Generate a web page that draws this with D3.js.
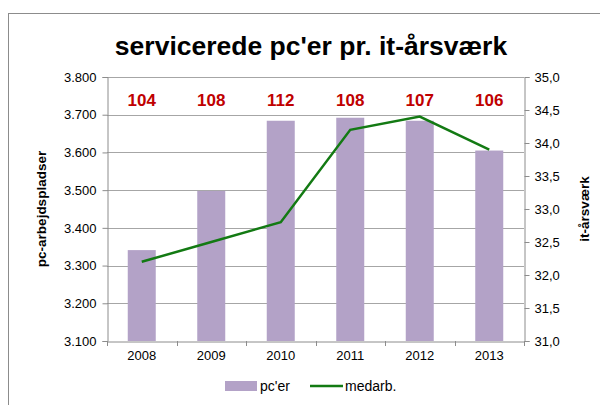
<!DOCTYPE html>
<html><head><meta charset="utf-8">
<script src="https://cdn.jsdelivr.net/npm/d3@7"></script>
<style>body{margin:0;background:#fff}svg{display:block;font-family:"Liberation Sans",Arial,sans-serif}</style>
</head><body><svg id="c" width="600" height="405"></svg>
<script>
const years = ["2008","2009","2010","2011","2012","2013"];
const pcer = [3341, 3498, 3684, 3692, 3684, 3605];
const medarb = [32.2, 32.5, 32.8, 34.2, 34.4, 33.9];
const ratios = ["104","108","112","108","107","106"];
const leftTicks = [3100,3200,3300,3400,3500,3600,3700,3800];
const rightTicks = [31,31.5,32,32.5,33,33.5,34,34.5,35];

const svg = d3.select("#c");
const L=107, R=524, T=77, B=341;
svg.append("rect").attr("x",8.5).attr("y",13.5).attr("width",620).attr("height",420)
  .attr("fill","#fff").attr("stroke","#8c8c8c").attr("stroke-width",1);

const xb = d3.scaleBand().domain(years).range([L,R]);
const yL = d3.scaleLinear().domain([3100,3800]).range([B,T]);
const yR = d3.scaleLinear().domain([31,35]).range([B,T]);

// gridlines
svg.append("g").selectAll("line").data(leftTicks.slice(1)).join("line")
  .attr("x1",L).attr("x2",R).attr("y1",d=>Math.round(yL(d))+0.5).attr("y2",d=>Math.round(yL(d))+0.5)
  .attr("stroke","#a6a6a6");

// bars
svg.append("g").selectAll("rect").data(years).join("rect")
  .attr("x",d=>xb(d)+xb.bandwidth()/2-14).attr("width",28)
  .attr("y",(d,i)=>yL(pcer[i])).attr("height",(d,i)=>B-yL(pcer[i]))
  .attr("fill","#b3a2c7");

// line
const line = d3.line().x((d,i)=>xb(years[i])+xb.bandwidth()/2).y(d=>yR(d));
svg.append("path").datum(medarb).attr("d",line).attr("fill","none")
  .attr("stroke","#137a13").attr("stroke-width",2.5);

// axes
const axL = d3.axisLeft(yL).tickValues(leftTicks).tickSize(5).tickPadding(6).tickFormat(d=>(d/1000).toFixed(3));
const gL = svg.append("g").attr("transform",`translate(${L+0.5},0)`).call(axL);
const axR = d3.axisRight(yR).tickValues(rightTicks).tickSize(5).tickPadding(5).tickFormat(d=>d.toFixed(1).replace(".",","));
const gR = svg.append("g").attr("transform",`translate(${R+0.5},0)`).call(axR);
const axB = d3.axisBottom(xb).tickSize(0).tickPadding(9);
const gB = svg.append("g").attr("transform",`translate(0,${B+0.5})`).call(axB);
[gL,gR,gB].forEach(g=>{
  g.selectAll("path,line").attr("stroke","#8c8c8c");
  g.selectAll("text").attr("fill","#000").style("font-size","13px").style("font-family","Liberation Sans, Arial, sans-serif");
});
// x ticks between categories
svg.append("g").selectAll("line").data(years.concat(["end"])).join("line")
  .attr("x1",(d,i)=>Math.round(L+i*xb.bandwidth())+0.5).attr("x2",(d,i)=>Math.round(L+i*xb.bandwidth())+0.5)
  .attr("y1",B).attr("y2",B+5).attr("stroke","#8c8c8c");

// ratio labels
svg.append("g").selectAll("text").data(ratios).join("text")
  .attr("x",(d,i)=>xb(years[i])+xb.bandwidth()/2).attr("y",106)
  .attr("text-anchor","middle").attr("fill","#c00000").style("font-size","17px").style("font-weight","bold")
  .text(d=>d);

// title
svg.append("text").attr("x",311).attr("y",55).attr("text-anchor","middle")
  .style("font-size","26.5px").style("font-weight","bold").text("servicerede pc'er pr. it-årsværk");

// axis titles
svg.append("text").attr("transform",`translate(46,${(T+B)/2}) rotate(-90)`).attr("text-anchor","middle")
  .style("font-size","13.5px").style("font-weight","bold").text("pc-arbejdspladser");
svg.append("text").attr("transform",`translate(589,${(T+B)/2}) rotate(-90)`).attr("text-anchor","middle")
  .style("font-size","13.5px").style("font-weight","bold").text("it-årsværk");

// legend
const lg = svg.append("g");
lg.append("rect").attr("x",225).attr("y",381).attr("width",32).attr("height",10).attr("fill","#b3a2c7");
lg.append("text").attr("x",260).attr("y",391).style("font-size","14px").text("pc'er");
lg.append("line").attr("x1",310).attr("x2",343).attr("y1",386).attr("y2",386).attr("stroke","#137a13").attr("stroke-width",2.5);
lg.append("text").attr("x",345).attr("y",391).style("font-size","14px").text("medarb.");
</script></body></html>
